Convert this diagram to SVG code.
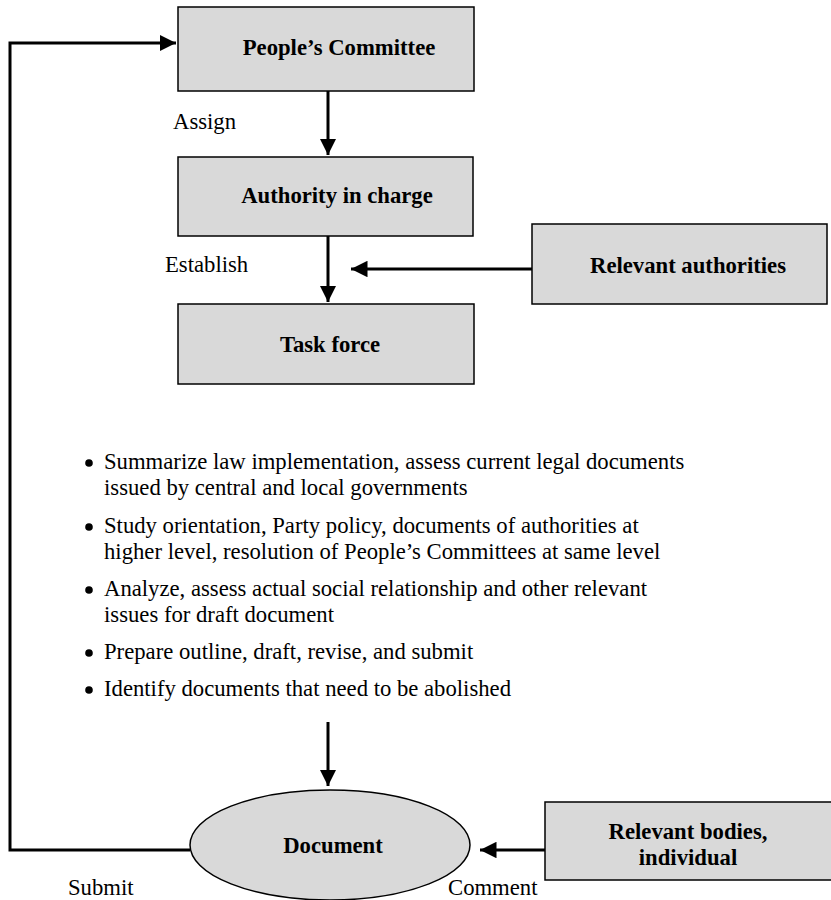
<svg xmlns="http://www.w3.org/2000/svg" width="831" height="900" viewBox="0 0 831 900">
<style>
.box{fill:#d9d9d9;stroke:#000;stroke-width:1.5}
.lbl{font-family:"Liberation Serif","Times New Roman",serif;font-weight:bold;font-size:22.7px;text-anchor:middle;fill:#000}
.t{font-family:"Liberation Serif","Times New Roman",serif;font-size:22.7px;fill:#000}
.c{fill:none;stroke:#000;stroke-width:3}
</style>
<defs>
<marker id="ah" viewBox="0 0 10 10" refX="10" refY="5" markerWidth="5.5" markerHeight="5.5" orient="auto" markerUnits="strokeWidth">
<path d="M0,0 L10,5 L0,10 z" fill="#000"/>
</marker>
</defs>
<g id="people-committee"><rect class="box" x="178" y="7" width="296" height="84"/><text class="lbl" x="339" y="55">People’s Committee</text></g>
<g id="authority"><rect class="box" x="178" y="157" width="295" height="79"/><text class="lbl" x="337" y="203">Authority in charge</text></g>
<g id="task-force"><rect class="box" x="178" y="304" width="296" height="80"/><text class="lbl" x="330" y="352">Task force</text></g>
<g id="relevant-authorities"><rect class="box" x="532" y="224" width="295" height="80"/><text class="lbl" x="688" y="273">Relevant authorities</text></g>
<g id="document"><ellipse cx="330" cy="845" rx="140" ry="55" fill="#d9d9d9" stroke="#000" stroke-width="1.5"/><text class="lbl" x="333" y="853">Document</text></g>
<g id="relevant-bodies"><rect class="box" x="545" y="802" width="290" height="78"/><text class="lbl" x="688" y="839">Relevant bodies,</text><text class="lbl" x="688" y="865">individual</text></g>
<g id="tasks">
<circle cx="89" cy="463" r="3.8"/><text class="t" x="104" y="469">Summarize law implementation, assess current legal documents</text>
<text class="t" x="104" y="495">issued by central and local governments</text>
<circle cx="89" cy="527" r="3.8"/><text class="t" x="104" y="533">Study orientation, Party policy, documents of authorities at</text>
<text class="t" x="104" y="559">higher level, resolution of People’s Committees at same level</text>
<circle cx="89" cy="590" r="3.8"/><text class="t" x="104" y="596">Analyze, assess actual social relationship and other relevant</text>
<text class="t" x="104" y="622">issues for draft document</text>
<circle cx="89" cy="653" r="3.8"/><text class="t" x="104" y="659">Prepare outline, draft, revise, and submit</text>
<circle cx="89" cy="690" r="3.8"/><text class="t" x="104" y="696">Identify documents that need to be abolished</text>
</g>
<g id="connectors">
<line class="c" x1="328" y1="91" x2="328" y2="155" marker-end="url(#ah)"/>
<line class="c" x1="328" y1="236" x2="328" y2="302" marker-end="url(#ah)"/>
<line class="c" x1="532" y1="269" x2="351" y2="269" marker-end="url(#ah)"/>
<line class="c" x1="328" y1="722" x2="328" y2="786" marker-end="url(#ah)"/>
<line class="c" x1="545" y1="850" x2="480" y2="850" marker-end="url(#ah)"/>
<polyline class="c" points="190,850 10,850 10,43 176,43" marker-end="url(#ah)"/>
<text class="t" x="173" y="129">Assign</text>
<text class="t" x="165" y="272">Establish</text>
<text class="t" x="68" y="895">Submit</text>
<text class="t" x="448" y="895">Comment</text>
</g>
</svg>
